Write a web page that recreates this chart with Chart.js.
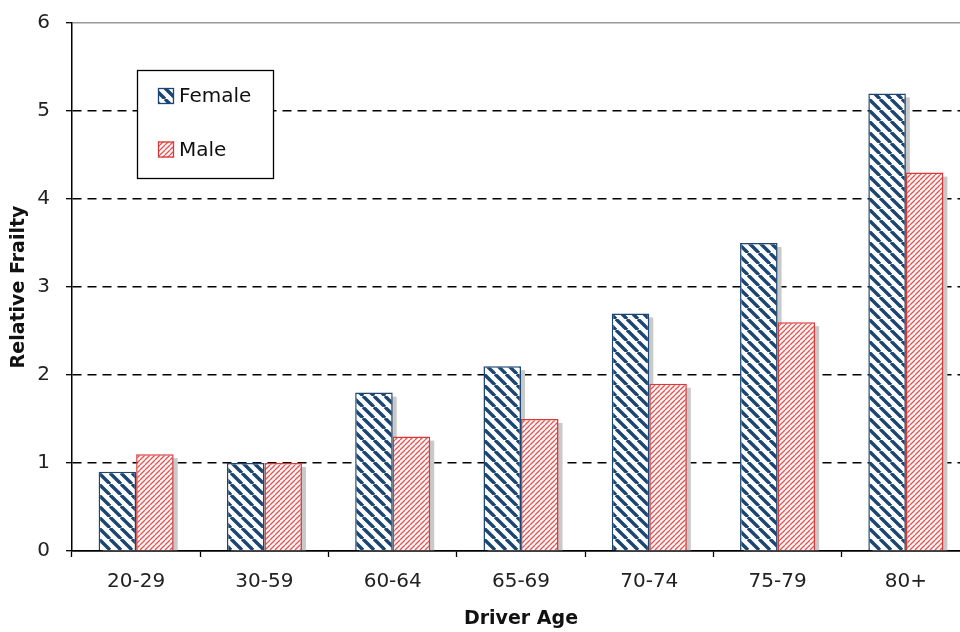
<!DOCTYPE html>
<html>
<head>
<meta charset="utf-8">
<script src="https://cdn.jsdelivr.net/npm/chart.js@4"></script>
<style>
  html, body { margin: 0; padding: 0; background: #fff; overflow: hidden; }
  #wrap { width: 976px; height: 632px; }
</style>
</head>
<body>
<div id="wrap"><canvas id="graficoFragilidad"></canvas></div>
<script>
// datos
const edades = ["20-29", "30-59", "60-64", "65-69", "70-74", "75-79", "80+"];
const mujeres = [0.9, 1.0, 1.8, 2.1, 2.7, 3.5, 5.2];
const hombres = [1.1, 1.0, 1.3, 1.5, 1.9, 2.6, 4.3];
const marcasY = [0, 1, 2, 3, 4, 5, 6];

const AZUL = "#1c4670";
const ROJO = "#d83a3a";

function rayado(tam, color, fondo, grosor, sentido) {
    const c = document.createElement("canvas");
    c.width = tam; c.height = tam;
    const g = c.getContext("2d");
    g.fillStyle = fondo;
    g.fillRect(0, 0, tam, tam);
    g.strokeStyle = color;
    g.lineWidth = grosor;
    for (const d of [-tam, 0, tam]) {
        g.beginPath();
        if (sentido === "\\") {
            g.moveTo(d, 0); g.lineTo(d + tam, tam);
        } else {
            g.moveTo(d, tam); g.lineTo(d + tam, 0);
        }
        g.stroke();
    }
    return g.createPattern(c, "repeat");
}

const patronMujer = rayado(11, AZUL, "#ffffff", 3.4, "\\");
const patronHombre = rayado(5, "#e25555", "#fff6f6", 1.3, "/");

// sombra gris detrás de cada barra
const sombras = {
    id: "sombras",
    beforeDatasetsDraw(chart) {
        const ctx = chart.ctx;
        ctx.save();
        ctx.fillStyle = "#c9c9c9";
        chart.data.datasets.forEach((ds, i) => {
            chart.getDatasetMeta(i).data.forEach(bar => {
                const p = bar.getProps(["x", "y", "base", "width"], true);
                ctx.fillRect(p.x - p.width / 2 + 4, p.y + 4, p.width, p.base - p.y - 4);
            });
        });
        ctx.restore();
    }
};

// leyenda dentro del área del gráfico
const leyenda = {
    id: "leyenda",
    afterDraw(chart) {
        const ctx = chart.ctx;
        ctx.save();
        ctx.fillStyle = "#fff";
        ctx.fillRect(137, 70, 136, 108);
        ctx.strokeStyle = "#000";
        ctx.lineWidth = 1.3;
        ctx.strokeRect(137.5, 70.5, 136, 108);
        const filas = [
            { txt: chart.data.datasets[0].label, fill: patronMujer, borde: AZUL, y: 96 },
            { txt: chart.data.datasets[1].label, fill: patronHombre, borde: ROJO, y: 149.5 }
        ];
        ctx.font = "20px 'DejaVu Sans'";
        ctx.textBaseline = "middle";
        filas.forEach(f => {
            ctx.fillStyle = f.fill;
            ctx.fillRect(158, f.y - 8, 16, 16);
            ctx.strokeStyle = f.borde;
            ctx.lineWidth = 1.3;
            ctx.strokeRect(158.5, f.y - 7.5, 15, 15);
            ctx.fillStyle = "#111";
            ctx.fillText(f.txt, 179, f.y + 1);
        });
        ctx.restore();
    }
};

function dibujarGrafico() {
    new Chart(document.getElementById("graficoFragilidad"), {
        type: "bar",
        data: {
            labels: edades,
            datasets: [{
                label: "Female",
                data: mujeres,
                backgroundColor: patronMujer,
                borderColor: AZUL,
                borderWidth: 1.5
            }, {
                label: "Male",
                data: hombres,
                backgroundColor: patronHombre,
                borderColor: ROJO,
                borderWidth: 1.5
            }]
        },
        options: {
            responsive: true,
            maintainAspectRatio: false,
            animation: false,
            datasets: { bar: { categoryPercentage: 0.585, barPercentage: 1.0 } },
            layout: { padding: { left: 0, top: 23, right: 6, bottom: 0 } },
            plugins: {
                legend: { display: false },
                tooltip: { enabled: false }
            },
            scales: {
                x: {
                    afterFit: s => { s.height = 81; },
                    grid: {
                        drawOnChartArea: false,
                        drawTicks: true,
                        tickLength: 6,
                        tickColor: "#000",
                        tickWidth: 1.3,
                        offset: true
                    },
                    border: { color: "#000", width: 1.5 },
                    ticks: {
                        padding: 13,
                        color: "#222",
                        font: { family: "'DejaVu Sans'", size: 20 }
                    },
                    title: {
                        display: true,
                        text: "Driver Age",
                        color: "#111",
                        font: { family: "'DejaVu Sans'", size: 19, weight: "bold" },
                        padding: { top: 0, bottom: 2 }
                    }
                },
                y: {
                    min: 0,
                    max: 6,
                    afterFit: s => {
                        s.width = 72;
                        s.paddingTop = 12;
                        s.paddingBottom = 12;
                    },
                    afterBuildTicks: s => { s.ticks = marcasY.map(v => ({ value: v })); },
                    grid: {
                        drawTicks: true,
                        tickLength: 6,
                        tickColor: "#000",
                        tickWidth: 1.3,
                        lineWidth: 1.4,
                        color: c => (c.tick && c.tick.value === 6) ? "#9a9a9a" : "#000"
                    },
                    border: {
                        color: "#000",
                        width: 1.5,
                        dash: c => (c.tick && (c.tick.value === 6 || c.tick.value === 0)) ? [] : [9, 6]
                    },
                    ticks: {
                        padding: 16,
                        color: "#222",
                        font: { family: "'DejaVu Sans'", size: 20 }
                    },
                    title: {
                        display: true,
                        text: "Relative Frailty",
                        color: "#111",
                        font: { family: "'DejaVu Sans'", size: 19, weight: "bold" },
                        padding: { top: 8, bottom: 0 }
                    }
                }
            }
        },
        plugins: [sombras, leyenda]
    });
}

document.addEventListener("DOMContentLoaded", dibujarGrafico);
</script>
</body>
</html>
